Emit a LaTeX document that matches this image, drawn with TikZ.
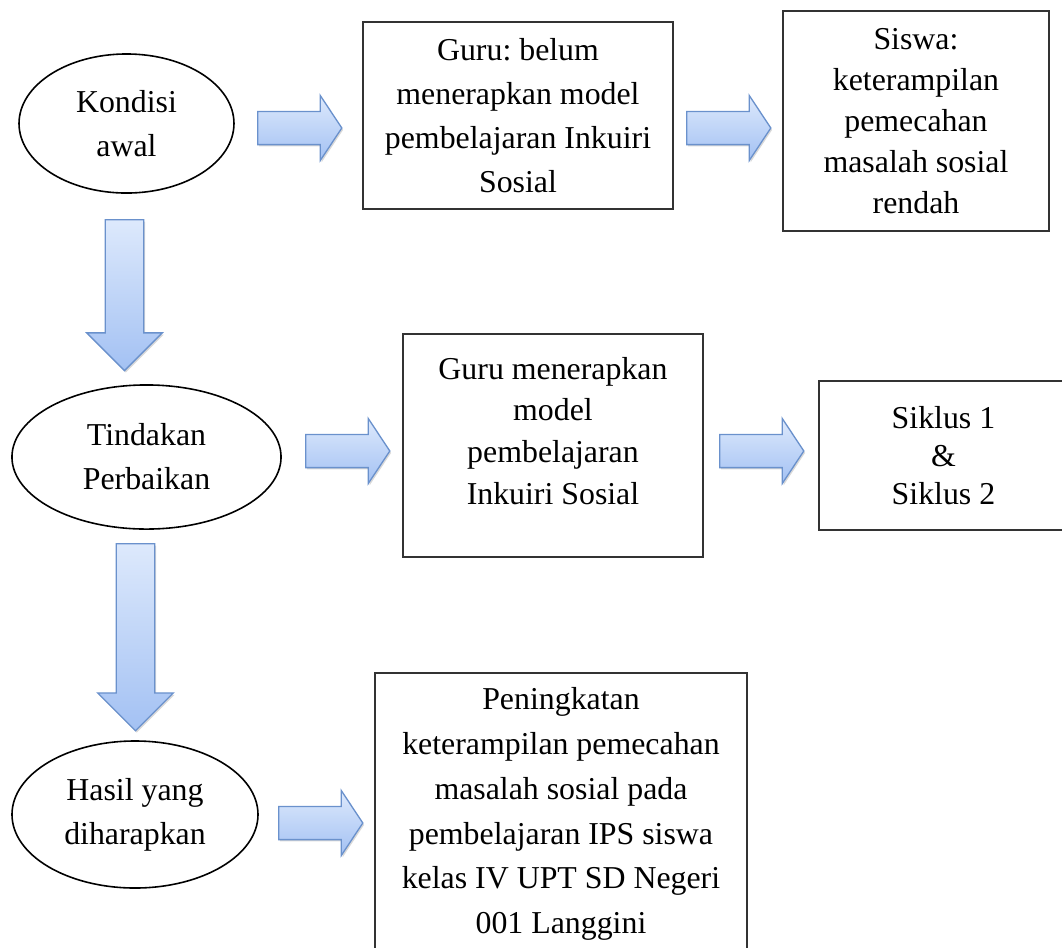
\documentclass[tikz,border=0pt]{standalone}
\usepackage{fontspec}
\setmainfont{Liberation Serif}
\usetikzlibrary{shapes.geometric,shapes.arrows,shadows}

\definecolor{panahmuda}{HTML}{DDE9FC}
\definecolor{panahtua}{HTML}{A3C1F3}
\definecolor{panahgaris}{HTML}{6A91CC}
\definecolor{garis}{HTML}{333333}

\tikzset{
  oval/.style={draw=black, line width=0.6pt, ellipse, inner sep=0pt, align=center},
  kotak/.style={draw=garis, line width=0.7pt, rectangle, inner sep=0pt, align=center},
  panah/.style={single arrow, draw=panahgaris, line width=0.5pt, minimum width=0pt,
    inner xsep=0pt, anchor=tail, top color=panahmuda, bottom color=panahtua,
    drop shadow={shadow xshift=0.5pt, shadow yshift=-0.7pt, opacity=0.3}},
  rarrow/.style={panah, minimum height=31.7pt, inner ysep=6pt,
    single arrow head extend=6pt, single arrow tip angle=113},
  darrow/.style={panah, rotate=-90, inner ysep=7pt,
    single arrow head extend=7pt, single arrow tip angle=90}
}

\begin{document}
\frenchspacing
\begin{tikzpicture}[x=0.3768pt, y=-0.3768pt, every node/.style={font=\fontsize{12}{16.6}\selectfont}]
    \useasboundingbox (0,0) rectangle (1062,947);

    % Baris 1: kondisi awal
    \node[oval, minimum width=81pt, minimum height=52.4pt] (kondisi) at (126.5,123.5) {Kondisi\\awal};
    \node[kotak, minimum width=116.8pt, minimum height=70.5pt] (guruawal) at (518,115.5)
        {Guru: belum\\menerapkan model\\pembelajaran Inkuiri\\Sosial};
    \node[kotak, minimum width=100.2pt, minimum height=82.9pt, font=\fontsize{12}{15.4}\selectfont] (siswa) at (916,121)
        {Siswa:\\keterampilan\\pemecahan\\masalah sosial\\rendah};
    \node[rarrow] (p1) at (257,128) {};
    \node[rarrow] (p2) at (686,128) {};

    % Panah ke bawah
    \node[darrow, minimum height=56.9pt] (t1) at (124.5,219) {};

    % Baris 2: tindakan
    \node[oval, minimum width=101.4pt, minimum height=54.3pt] (tindakan) at (146.5,457) {Tindakan\\Perbaikan};
    \node[kotak, minimum width=113pt, minimum height=84pt] (gurutindak) at (553,445.5) {};
    \node[align=center, font=\fontsize{12}{15.8}\selectfont] (gurutindakteks) at (553,431)
        {Guru menerapkan\\model\\pembelajaran\\Inkuiri Sosial};
    \node[kotak, minimum width=93.8pt, minimum height=56.1pt, font=\fontsize{12}{14.3}\selectfont] (siklus) at (943.5,455.5)
        {Siklus 1\\\&\\Siklus 2};
    \node[rarrow] (p3) at (305,451) {};
    \node[rarrow] (p4) at (719,451) {};

    % Panah ke bawah
    \node[darrow, minimum height=70.5pt] (t2) at (135.5,543) {};

    % Baris 3: hasil
    \node[oval, minimum width=92.7pt, minimum height=55.4pt] (hasil) at (135,814.5) {Hasil yang\\diharapkan};
    \node[kotak, minimum width=140.2pt, minimum height=106.3pt, font=\fontsize{12}{16.9}\selectfont] (peningkatan) at (561,814)
        {Peningkatan\\keterampilan pemecahan\\masalah sosial pada\\pembelajaran IPS siswa\\kelas IV UPT SD Negeri\\001 Langgini};
    \node[rarrow] (p5) at (278,823) {};
\end{tikzpicture}
\end{document}
